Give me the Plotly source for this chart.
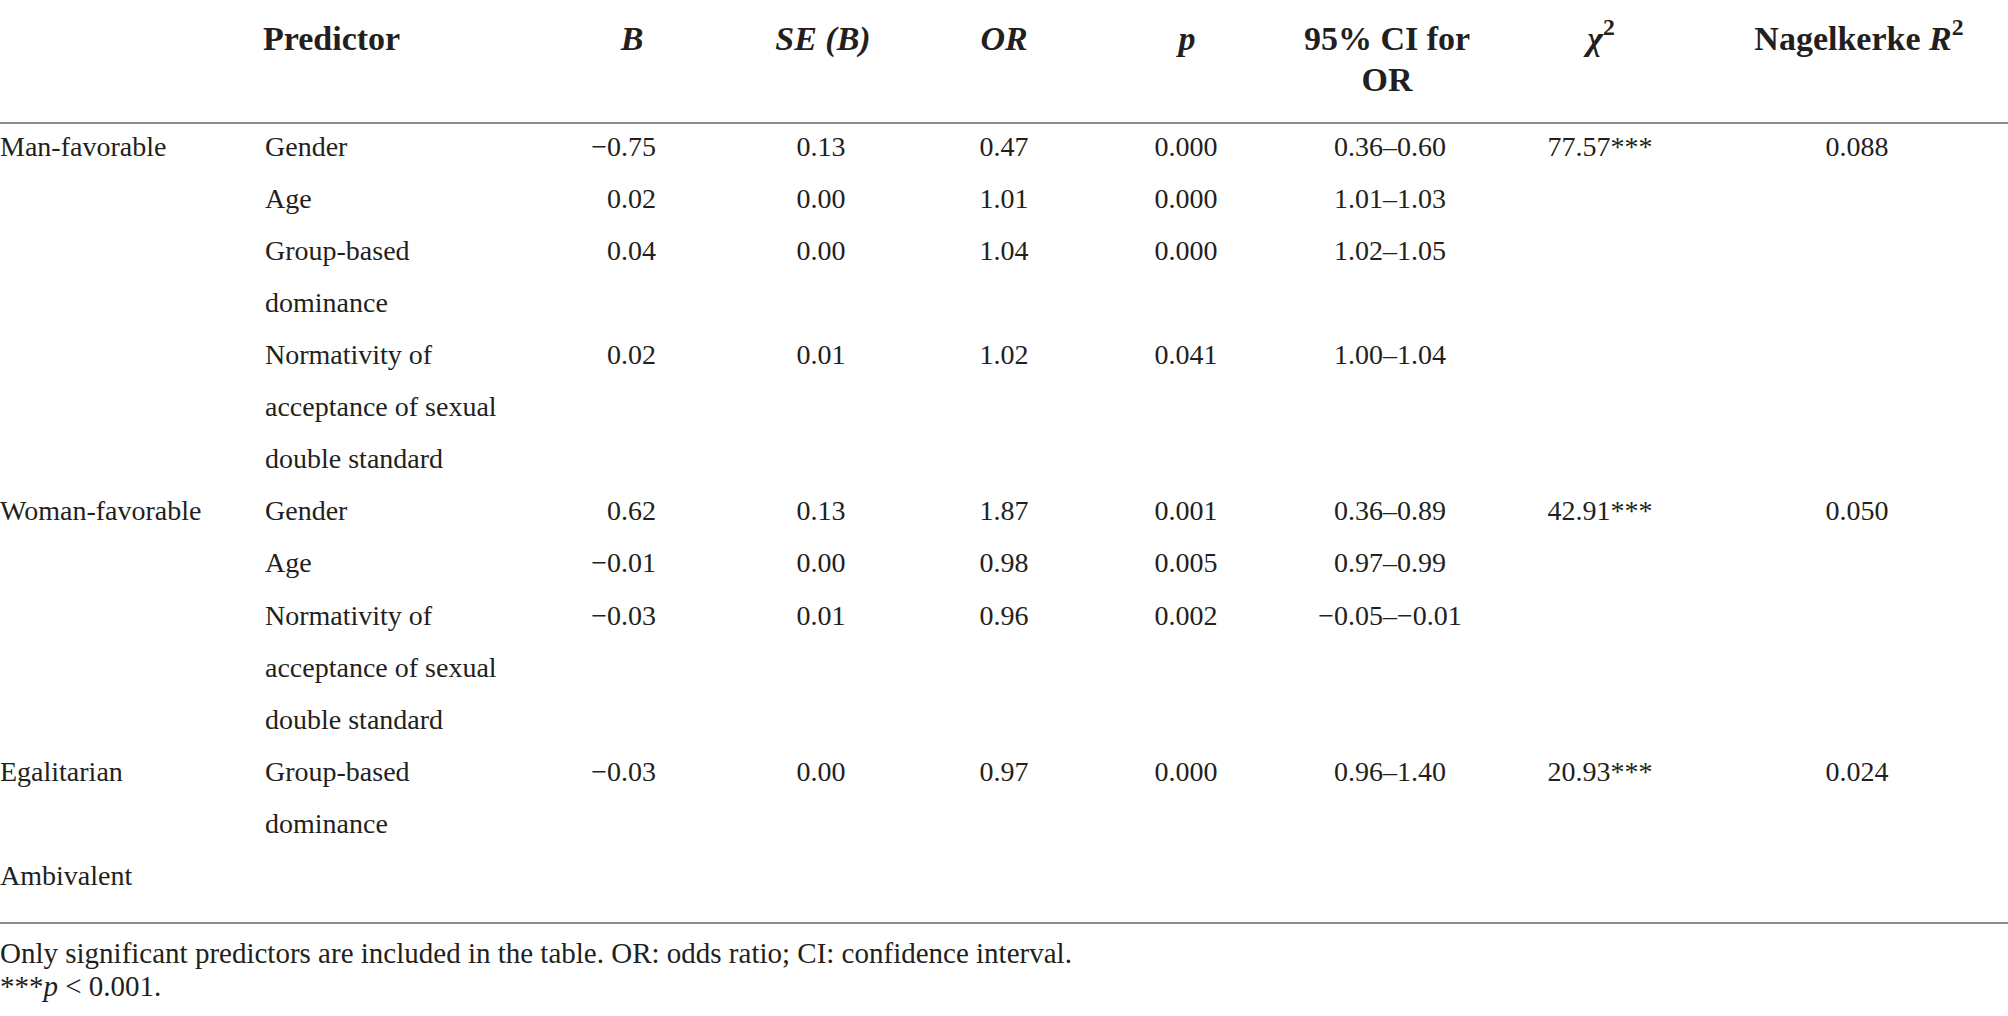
import plotly.graph_objects as go

# ---------------- data ----------------
GROUPS = ["Man-favorable", "Woman-favorable", "Egalitarian", "Ambivalent"]
ROW_GROUP = [0, 0, 0, 0, 1, 1, 1, 2, 3]
PREDICTOR = [
    ["Gender"],
    ["Age"],
    ["Group-based", "dominance"],
    ["Normativity of", "acceptance of sexual", "double standard"],
    ["Gender"],
    ["Age"],
    ["Normativity of", "acceptance of sexual", "double standard"],
    ["Group-based", "dominance"],
    [""],
]
B_VAL = ["−0.75", "0.02", "0.04", "0.02", "0.62", "−0.01", "−0.03", "−0.03", ""]
SE_VAL = ["0.13", "0.00", "0.00", "0.01", "0.13", "0.00", "0.01", "0.00", ""]
OR_VAL = ["0.47", "1.01", "1.04", "1.02", "1.87", "0.98", "0.96", "0.97", ""]
P_VAL = ["0.000", "0.000", "0.000", "0.041", "0.001", "0.005", "0.002", "0.000", ""]
CI_VAL = ["0.36–0.60", "1.01–1.03", "1.02–1.05", "1.00–1.04", "0.36–0.89",
          "0.97–0.99", "−0.05–−0.01", "0.96–1.40", ""]
CHI2_VAL = ["77.57***", "", "", "", "42.91***", "", "", "20.93***", ""]
R2_VAL = ["0.088", "", "", "", "0.050", "", "", "0.024", ""]

HEADERS = [
    ["Predictor"],
    ["<i>B</i>"],
    ["<i>SE (B)</i>"],
    ["<i>OR</i>"],
    ["<i>p</i>"],
    ["95% CI for", "OR"],
    ["<i>χ</i><sup>2</sup>"],
    ["Nagelkerke <i>R</i><sup>2</sup>"],
]
FOOTNOTES = [
    "Only significant predictors are included in the table. OR: odds ratio; CI: confidence interval.",
    "***<i>p</i> < 0.001.",
]

# ---------------- layout constants ----------------
W, H = 2008, 1016
FONT = "Liberation Serif"
COLOR = "#231f20"
BODY_SIZE = 28
HEAD_SIZE = 34
FOOT_SIZE = 29
ROW0, ROW_H = 148.6, 52.1
HEAD_Y = [41, 82]
RULE_TOP, RULE_BOT = 123, 923
FOOT_Y = [956, 989]

# column anchors (x) and text positions
COL_GROUP_X = 0
COL_PRED_X = 265
NUM_COLS = [  # (values, x, textposition)
    (B_VAL, 656, "middle left"),
    (SE_VAL, 821, "middle center"),
    (OR_VAL, 1004, "middle center"),
    (P_VAL, 1186, "middle center"),
    (CI_VAL, 1390, "middle center"),
    (CHI2_VAL, 1600, "middle center"),
    (R2_VAL, 1857, "middle center"),
]
HEAD_X = [(263, "middle right"), (632, "middle center"), (823, "middle center"),
          (1004, "middle center"), (1187, "middle center"), (1387, "middle center"),
          (1601, "middle center"), (1859, "middle center")]

# line index of each data row
line_start = []
acc = 0
for lines in PREDICTOR:
    line_start.append(acc)
    acc += max(1, len(lines))


def row_y(k):
    return ROW0 + ROW_H * k


fig = go.Figure()


def add_text(xs, ys, texts, pos, size, bold=False):
    fig.add_trace(go.Scatter(
        x=xs, y=ys, text=texts, mode="text", textposition=pos,
        textfont=dict(family=FONT, size=size, color=COLOR,
                      weight="bold" if bold else "normal"),
        hoverinfo="skip", showlegend=False, cliponaxis=False,
    ))


# group labels (first line of each group)
gx, gy, gt = [], [], []
seen = set()
for i, g in enumerate(ROW_GROUP):
    if g not in seen:
        seen.add(g)
        gx.append(COL_GROUP_X)
        gy.append(row_y(line_start[i]))
        gt.append(GROUPS[g])
add_text(gx, gy, gt, "middle right", BODY_SIZE)

# predictors (wrapped lines)
px_, py_, pt_ = [], [], []
for i, lines in enumerate(PREDICTOR):
    for j, ln in enumerate(lines):
        if ln:
            px_.append(COL_PRED_X)
            py_.append(row_y(line_start[i] + j))
            pt_.append(ln)
add_text(px_, py_, pt_, "middle right", BODY_SIZE)

# numeric columns
for vals, x, pos in NUM_COLS:
    xs, ys, ts = [], [], []
    for i, v in enumerate(vals):
        if v:
            xs.append(x)
            ys.append(row_y(line_start[i]))
            ts.append(v)
    add_text(xs, ys, ts, pos, BODY_SIZE)

# headers
for (x, pos), lines in zip(HEAD_X, HEADERS):
    add_text([x] * len(lines), HEAD_Y[:len(lines)], lines, pos, HEAD_SIZE, bold=True)

# footnotes
add_text([0] * len(FOOTNOTES), FOOT_Y, FOOTNOTES, "middle right", FOOT_SIZE)

# rules
for yy in (RULE_TOP, RULE_BOT):
    fig.add_shape(type="line", xref="paper", yref="y", x0=0, x1=1, y0=yy, y1=yy,
                  line=dict(color="#8c8c8c", width=2))

fig.update_layout(
    width=W, height=H, margin=dict(l=0, r=0, t=0, b=0),
    paper_bgcolor="white", plot_bgcolor="white",
    xaxis=dict(range=[0, W], visible=False, fixedrange=True),
    yaxis=dict(range=[H, 0], visible=False, fixedrange=True),
    font=dict(family=FONT, color=COLOR),
)

fig.write_html(
    "out.html",
    config={"displayModeBar": False, "staticPlot": True},
    post_script="document.body.style.margin='0';document.body.style.overflow='hidden';",
)
